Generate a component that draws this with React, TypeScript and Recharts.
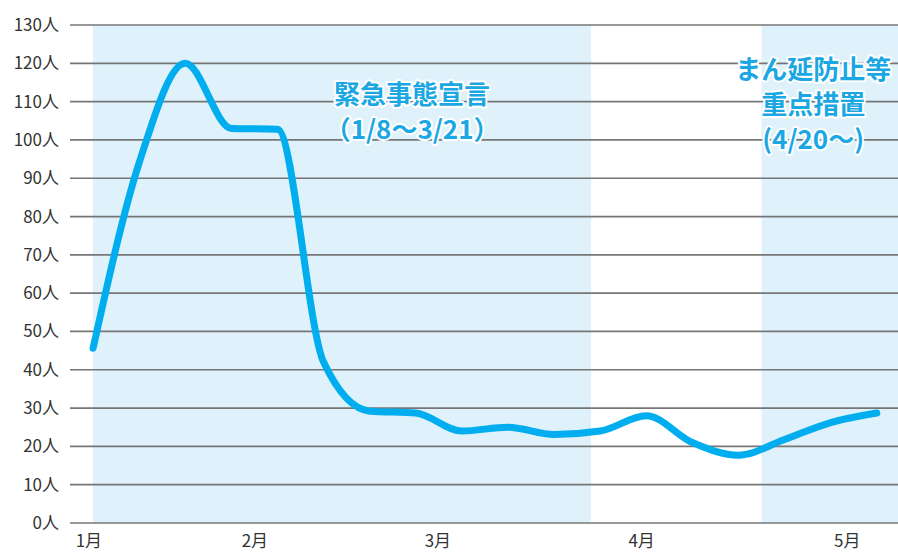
import React from 'react';
import {
  LineChart, Line, XAxis, YAxis, ReferenceArea, ReferenceLine, ReferenceDot,
} from 'recharts';

// weekly points starting 1/8
const weeks = [0, 1, 2, 3, 4, 5, 6, 7, 8, 9, 10, 11, 12, 13, 14, 15, 16, 17];
const patients = [45.6, 94, 120, 103, 102.8, 42, 29.2, 28.7, 24, 25, 23.1, 24, 28, 21, 17.7, 21.8, 26.2, 28.7];

const monthTicks = [-0.09, 3.51, 7.48, 11.9, 16.36];
const monthLabels = ['1月', '2月', '3月', '4月', '5月'];

const yTicks = [0, 10, 20, 30, 40, 50, 60, 70, 80, 90, 100, 110, 120, 130];

const emergencyLines = ['緊急事態宣言', '（1/8～3/21）'];
const preventionLines = ['まん延防止等', '重点措置', '(4/20～)'];

const FONT = "'Noto Sans CJK JP', 'Noto Sans', sans-serif";
const X_MIN = -0.5;
const X_MAX = 17.46;

const data = weeks.map((w, i) => ({ week: w, value: patients[i] }));

const Note = ({ viewBox, lines }: any) => {
  if (!viewBox) return null;
  const cx = viewBox.x + viewBox.width / 2;
  const cy = viewBox.y + viewBox.height / 2;
  return (
    <g>
      {lines.map((t: string, i: number) => (
        <text
          key={i}
          x={cx}
          y={cy + i * 35}
          textAnchor="middle"
          dominantBaseline="central"
          fontSize={26}
          fontWeight="bold"
          fontFamily={FONT}
          fill="#1aa7e3"
          stroke="#ffffff"
          strokeWidth={4}
          strokeLinejoin="round"
          paintOrder="stroke"
        >
          {t}
        </text>
      ))}
    </g>
  );
};

export default function App() {
  return (
    <div style={{ position: 'absolute', left: 0, top: 0, background: '#fff' }}>
      <LineChart width={898} height={552} data={data} margin={{ top: 25, right: 0, bottom: 0, left: 0 }}>
        <XAxis
          dataKey="week"
          type="number"
          domain={[X_MIN, X_MAX]}
          ticks={monthTicks}
          interval={0}
          tickFormatter={(v: number, i: number) => monthLabels[i]}
          axisLine={false}
          tickLine={false}
          tickSize={0}
          tickMargin={12}
          height={29}
          tick={{ fontSize: 17, fill: '#333', fontFamily: FONT }}
        />
        <YAxis
          type="number"
          domain={[0, 130]}
          ticks={yTicks}
          interval={0}
          tickFormatter={(v: number) => `${v}人`}
          axisLine={false}
          tickLine={false}
          tickSize={0}
          tickMargin={11}
          width={70}
          tick={{ fontSize: 17, fill: '#333', fontFamily: FONT }}
        />
        <ReferenceArea x1={0} x2={10.8} y1={0} y2={130} fill="#dff1fa" fillOpacity={1} stroke="none" />
        <ReferenceArea x1={14.5} x2={X_MAX} y1={0} y2={130} fill="#dff1fa" fillOpacity={1} stroke="none" />
        {yTicks.map((v) => (
          <ReferenceLine key={v} y={v} stroke="#767676" strokeWidth={1.7} />
        ))}
        <ReferenceDot x={6.92} y={112.3} r={0} fill="none" stroke="none"
          label={(p: any) => <Note viewBox={p.viewBox} lines={emergencyLines} />} />
        <ReferenceDot x={15.62} y={118.8} r={0} fill="none" stroke="none"
          label={(p: any) => <Note viewBox={p.viewBox} lines={preventionLines} />} />
        <Line
          type="monotone"
          dataKey="value"
          stroke="#00aeef"
          strokeWidth={7}
          strokeLinecap="round"
          strokeLinejoin="round"
          dot={false}
          activeDot={false}
          isAnimationActive={false}
        />
      </LineChart>
    </div>
  );
}
